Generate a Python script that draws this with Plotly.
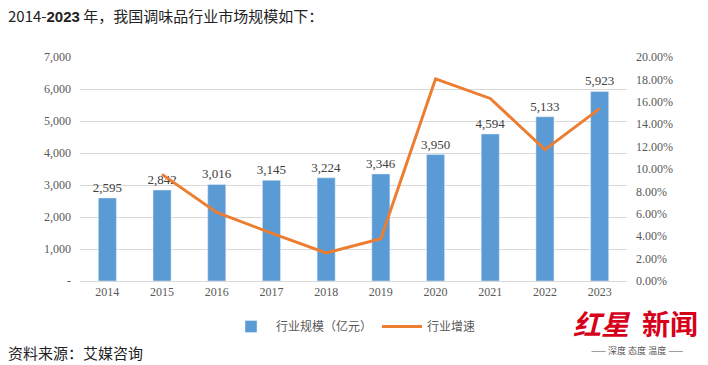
import plotly.graph_objects as go

years = ["2014", "2015", "2016", "2017", "2018", "2019", "2020", "2021", "2022", "2023"]
scale = [2595, 2842, 3016, 3145, 3224, 3346, 3950, 4594, 5133, 5923]
growth_years = ["2015", "2016", "2017", "2018", "2019", "2020", "2021", "2022", "2023"]
growth = [0.0952, 0.0612, 0.0428, 0.0251, 0.0378, 0.1805, 0.1630, 0.1173, 0.1539]
left_ticks = [0, 1000, 2000, 3000, 4000, 5000, 6000, 7000]
left_labels = ["-", "1,000", "2,000", "3,000", "4,000", "5,000", "6,000", "7,000"]
right_ticks = [i / 100 for i in range(0, 21, 2)]

serif = "Liberation Serif, Times New Roman, serif"
cjk = "Noto Sans CJK SC"

L, R, T, B = 80, 627, 57, 281
PW, PH = R - L, B - T


def px(x):
    return (x - L) / PW


def py(y):
    return (B - y) / PH


fig = go.Figure()
fig.add_trace(go.Bar(
    x=years, y=scale, name="行业规模（亿元）",
    marker=dict(color="#5B9BD5"),
    text=[f"{v:,}" for v in scale], textposition="outside",
    textfont=dict(family=serif, size=13, color="#404040"),
    constraintext="none",
    cliponaxis=False,
))
fig.add_trace(go.Scatter(
    x=growth_years, y=growth, name="行业增速", yaxis="y2",
    mode="lines", line=dict(color="#ED7D31", width=3),
))

fig.update_layout(
    width=708, height=365,
    margin=dict(l=L, r=708 - R, t=T, b=365 - B),
    paper_bgcolor="white", plot_bgcolor="white",
    bargap=0.67,
    showlegend=True,
    legend=dict(orientation="h", x=0.5, xanchor="center", y=py(312), yanchor="top",
                font=dict(family=cjk, size=12, color="#595959"),
                itemwidth=40),
    xaxis=dict(type="category", showgrid=False, showline=True, linecolor="#D9D9D9",
               ticks="", tickfont=dict(family=serif, size=12, color="#595959")),
    yaxis=dict(range=[0, 7000], tickvals=left_ticks, ticktext=left_labels,
               showgrid=True, gridcolor="#D9D9D9", gridwidth=1, zeroline=False,
               tickfont=dict(family=serif, size=12, color="#595959"), ticks="",
               ticklabelstandoff=8),
    yaxis2=dict(range=[0, 0.20], tickvals=right_ticks, tickformat=".2%",
                overlaying="y", side="right", showgrid=False, zeroline=False,
                tickfont=dict(family=serif, size=12, color="#595959"), ticks="",
                ticklabelstandoff=8),
    font=dict(family=serif),
)

fig.add_annotation(xref="paper", yref="paper", x=px(6), y=py(3), xanchor="left", yanchor="top",
                   text="2014-<b><span style='font-family:Liberation Sans'>2023</span></b> 年，我国调味品行业市场规模如下：",
                   showarrow=False, font=dict(family=cjk, size=15, color="#222222"))
fig.add_annotation(xref="paper", yref="paper", x=px(6), y=py(352), xanchor="left", yanchor="middle",
                   text="资料来源：艾媒咨询", showarrow=False,
                   font=dict(family=cjk, size=15, color="#222222"))
fig.add_annotation(xref="paper", yref="paper", x=px(572), y=py(323), xanchor="left", yanchor="middle",
                   text="<b><i>红星</i></b>", showarrow=False, borderpad=0,
                   font=dict(family=cjk, size=28, color="#D7001A"))
fig.add_annotation(xref="paper", yref="paper", x=px(699), y=py(323), xanchor="right", yanchor="middle",
                   text="<b>新闻</b>", showarrow=False, borderpad=0,
                   font=dict(family=cjk, size=28, color="#D7001A"))
fig.add_annotation(xref="paper", yref="paper", x=px(637), y=py(350), xanchor="center", yanchor="middle",
                   text="—— 深度 态度 温度 ——", showarrow=False,
                   font=dict(family=cjk, size=9, color="#555555"))

fig.write_html("out.html", config={"displayModeBar": False},
               post_script="document.body.style.margin='0';document.body.style.overflow='hidden';")
